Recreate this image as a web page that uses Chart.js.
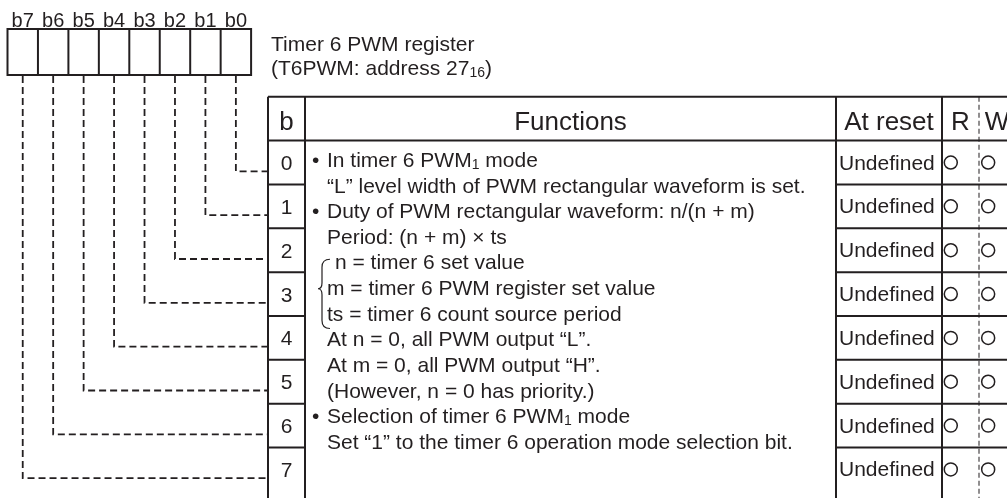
<!DOCTYPE html>
<html>
<head>
<meta charset="utf-8">
<script src="https://cdn.jsdelivr.net/npm/chart.js@4"></script>
<style>
  html, body { margin: 0; padding: 0; background: #fff; }
  #wrap { width: 1007px; height: 498px; position: relative; }
</style>
</head>
<body>
<div id="wrap"><canvas id="grafico"></canvas></div>
<script>
// register data
var regLabels = ['b7', 'b6', 'b5', 'b4', 'b3', 'b2', 'b1', 'b0'];
var bits = [0, 1, 2, 3, 4, 5, 6, 7];
var headers = ['b', 'Functions', 'At reset', 'R', 'W'];
var resetValues = ['Undefined', 'Undefined', 'Undefined', 'Undefined', 'Undefined', 'Undefined', 'Undefined', 'Undefined'];
var readable = [true, true, true, true, true, true, true, true];
var writable = [true, true, true, true, true, true, true, true];
var titleLines = ['Timer 6 PWM register', '(T6PWM: address 27{16})'];
var functionLines = [
    '• In timer 6 PWM{1} mode',
    '“L” level width of PWM rectangular waveform is set.',
    '• Duty of PWM rectangular waveform: n/(n + m)',
    'Period: (n + m) × ts',
    'n = timer 6 set value',
    'm = timer 6 PWM register set value',
    'ts = timer 6 count source period',
    'At n = 0, all PWM output “L”.',
    'At m = 0, all PWM output “H”.',
    '(However, n = 0 has priority.)',
    '• Selection of timer 6 PWM{1} mode',
    'Set “1” to the timer 6 operation mode selection bit.'
];

var INK = '#231f20';
var FONT = '"Liberation Sans", Arial, Helvetica, sans-serif';
var ROW_H = 45.3;      // px per row
var HEAD_BOTTOM = 137; // px
var X_TABLE = 268, X_B = 305, X_FUNC = 836, X_RESET = 942, X_RW = 979, X_R = 958, X_W = 996;

function drawRich(ctx, str, x, y, size) {
    var parts = str.split(/(\{[^}]*\})/);
    parts.forEach(function (p) {
        if (!p) return;
        if (p.charAt(0) === '{') {
            var s = p.slice(1, -1);
            ctx.font = Math.round(size * 0.68) + 'px ' + FONT;
            ctx.fillText(s, x, y + 2);
            x += ctx.measureText(s).width;
        } else {
            ctx.font = size + 'px ' + FONT;
            ctx.fillText(p, x, y);
            x += ctx.measureText(p).width;
        }
    });
}

var diagram = {
    id: 'diagram',
    beforeDatasetsDraw: function (chart) {
        var ctx = chart.ctx;
        var sx = chart.scales.x, sy = chart.scales.y;
        var X = function (v) { return sx.getPixelForValue(v); };
        var Y = function (v) { return sy.getPixelForValue(v); };
        ctx.save();
        ctx.fillStyle = INK;
        ctx.strokeStyle = INK;
        ctx.textBaseline = 'alphabetic';

        // register boxes
        var bx0 = 7.5, cw = 30.45, by0 = 29, by1 = 75;
        ctx.lineWidth = 2;
        ctx.strokeRect(bx0, by0, cw * 8, by1 - by0);
        for (var k = 1; k < 8; k++) {
            ctx.beginPath();
            ctx.moveTo(bx0 + k * cw, by0);
            ctx.lineTo(bx0 + k * cw, by1);
            ctx.stroke();
        }
        ctx.font = '20px ' + FONT;
        ctx.textAlign = 'center';
        regLabels.forEach(function (l, k) {
            ctx.fillText(l, bx0 + (k + 0.5) * cw, 27);
        });

        // title
        ctx.textAlign = 'left';
        drawRich(ctx, titleLines[0], 271, 51, 21);
        drawRich(ctx, titleLines[1], 271, 75, 21);

        // leader lines
        ctx.setLineDash([7, 4]);
        ctx.lineWidth = 1.8;
        bits.forEach(function (b) {
            var lx = bx0 + (7 - b + 0.5) * cw;
            var ly = Y(b + 0.7);
            ctx.beginPath();
            ctx.moveTo(lx, by1 + 1);
            ctx.lineTo(lx, ly);
            ctx.lineTo(X_TABLE, ly);
            ctx.stroke();
        });
        ctx.setLineDash([]);

        // table frame
        var top = Y(-1), bot = chart.height + 2;
        ctx.lineWidth = 2;
        ctx.beginPath();
        ctx.moveTo(X_TABLE, top); ctx.lineTo(chart.width + 2, top);
        ctx.moveTo(X_TABLE, Y(0)); ctx.lineTo(chart.width + 2, Y(0));
        [X_TABLE, X_B, X_FUNC, X_RESET].forEach(function (cx) {
            ctx.moveTo(cx, top); ctx.lineTo(cx, bot);
        });
        bits.forEach(function (b) {
            if (b === 7) return;
            ctx.moveTo(X_TABLE, Y(b + 1)); ctx.lineTo(X_B, Y(b + 1));
            ctx.moveTo(X_FUNC, Y(b + 1)); ctx.lineTo(chart.width + 2, Y(b + 1));
        });
        ctx.stroke();
        ctx.lineWidth = 1;
        ctx.setLineDash([5, 3]);
        ctx.beginPath();
        ctx.moveTo(X_RW, top); ctx.lineTo(X_RW, bot);
        ctx.stroke();
        ctx.setLineDash([]);

        // header
        ctx.font = '26px ' + FONT;
        ctx.textAlign = 'center';
        var hy = Y(-0.5) + 11;
        ctx.fillText(headers[0], (X_TABLE + X_B) / 2, hy);
        ctx.fillText(headers[1], (X_B + X_FUNC) / 2, hy);
        ctx.fillText(headers[2], (X_FUNC + X_RESET) / 2, hy);
        ctx.fillText(headers[3], (X_RESET + X_RW) / 2, hy);
        ctx.fillText(headers[4], X_W + 1, hy);

        // bit numbers and reset values
        ctx.font = '21px ' + FONT;
        bits.forEach(function (b) {
            ctx.textAlign = 'center';
            ctx.fillText(String(b), (X_TABLE + X_B) / 2, Y(b + 0.5) + 7.5);
            ctx.textAlign = 'left';
            ctx.fillText(resetValues[b], 839, Y(b + 0.5) + 7);
        });

        // function text
        ctx.textAlign = 'left';
        var step = 26.5 / ROW_H;
        functionLines.forEach(function (line, i) {
            var ly = Y(0.6 + i * step);
            var tx = 327;
            if (line.charAt(0) === '•') {
                ctx.font = '21px ' + FONT;
                ctx.fillText('•', 312, ly);
                line = line.slice(2);
            }
            if (i === 4) tx = 335;
            drawRich(ctx, line, tx, ly, 21);
        });

        // brace for n / m / ts
        var yt = Y(0.6 + 3.6 * step), ym = Y(0.6 + 4.75 * step), yb = Y(0.6 + 6.3 * step);
        ctx.lineWidth = 1.2;
        ctx.beginPath();
        ctx.moveTo(330, yt);
        ctx.quadraticCurveTo(322, yt, 322, yt + 8);
        ctx.lineTo(322, ym - 6);
        ctx.quadraticCurveTo(322, ym, 318, ym);
        ctx.quadraticCurveTo(322, ym, 322, ym + 6);
        ctx.lineTo(322, yb - 8);
        ctx.quadraticCurveTo(322, yb, 330, yb);
        ctx.stroke();

        ctx.restore();
    }
};

var rPoints = bits.filter(function (b) { return readable[b]; }).map(function (b) { return { x: X_R, y: b + 0.5 }; });
var wPoints = bits.filter(function (b) { return writable[b]; }).map(function (b) { return { x: X_W, y: b + 0.5 }; });

var ctx = document.querySelector('#grafico').getContext('2d');
var chart = new Chart(ctx, {
    type: 'scatter',
    data: {
        datasets: [{
            label: 'R',
            data: rPoints,
            pointRadius: 6.5,
            pointBorderWidth: 1.5,
            borderColor: INK,
            backgroundColor: 'rgba(0,0,0,0)'
        }, {
            label: 'W',
            data: wPoints,
            pointRadius: 6.5,
            pointBorderWidth: 1.5,
            borderColor: INK,
            backgroundColor: 'rgba(0,0,0,0)'
        }]
    },
    options: {
        responsive: true,
        maintainAspectRatio: false,
        animation: false,
        events: [],
        devicePixelRatio: 1,
        layout: { padding: 0 },
        plugins: { legend: { display: false }, tooltip: { enabled: false } },
        scales: {
            x: { type: 'linear', display: false, min: 0, max: 1007 },
            y: { type: 'linear', display: false, reverse: true,
                 min: -HEAD_BOTTOM / ROW_H, max: (498 - HEAD_BOTTOM) / ROW_H }
        }
    },
    plugins: [diagram]
});
</script>
</body>
</html>
